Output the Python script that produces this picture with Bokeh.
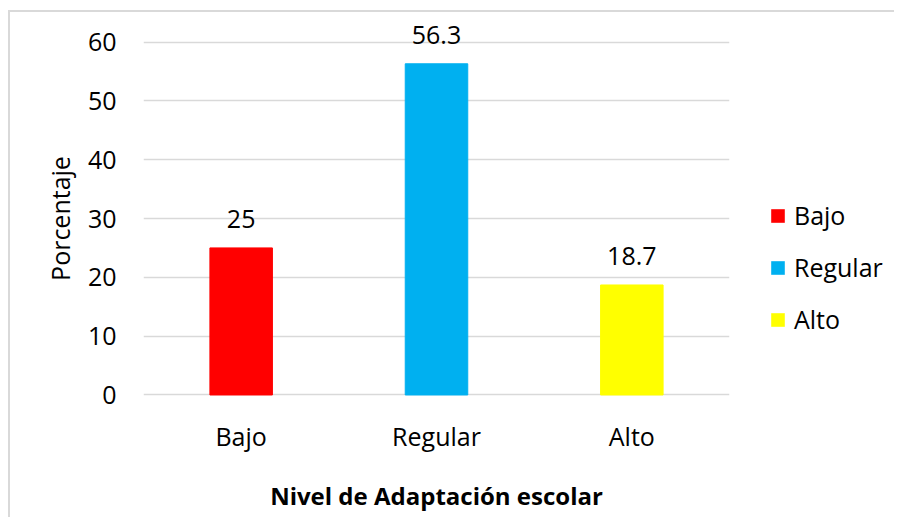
from bokeh.plotting import figure
from bokeh.layouts import row
from bokeh.models import ColumnDataSource, LabelSet, Legend, LegendItem
from bokeh.embed import file_html
from bokeh.resources import INLINE
from bokeh.core.properties import value

categories = ["Bajo", "Regular", "Alto"]
values = [25, 56.3, 18.7]
labels = ["25", "56.3", "18.7"]
colors = ["#FF0000", "#00B0F0", "#FFFF00"]
y_ticks = [0, 10, 20, 30, 40, 50, 60]

FONT = "Open Sans"
FS = "25px"

src = ColumnDataSource(dict(cat=categories, val=values, lab=labels, col=colors))

p = figure(x_range=categories, y_range=(-4, 64), width=727, height=505,
           output_backend="svg", toolbar_location=None,
           min_border_left=133, min_border_right=8, min_border_top=6, min_border_bottom=99)
p.outline_line_color = None
p.background_fill_color = "white"
p.border_fill_color = "white"

r = p.vbar(x="cat", top="val", bottom=0, width=0.32, color="col", source=src)

p.xgrid.grid_line_color = None
p.ygrid.grid_line_color = "#d9d9d9"
p.ygrid.grid_line_width = 1.5
p.yaxis.ticker = y_ticks

for ax in (p.xaxis[0], p.yaxis[0]):
    ax.axis_line_color = None
    ax.major_tick_line_color = None
    ax.minor_tick_line_color = None
    ax.major_tick_out = 0
    ax.major_tick_in = 0
    ax.major_label_text_font = FONT
    ax.major_label_text_font_size = FS
    ax.major_label_text_color = "black"
    ax.axis_label_text_font = FONT
    ax.axis_label_text_color = "black"

p.yaxis.major_label_standoff = 27
p.yaxis.axis_label = "Porcentaje"
p.yaxis.axis_label_text_font_style = "normal"
p.yaxis.axis_label_text_font_size = FS
p.yaxis.axis_label_standoff = 8

p.xaxis.major_label_standoff = 0
p.xaxis.axis_label = "Nivel de Adaptación escolar"
p.xaxis.axis_label_text_font_style = "bold"
p.xaxis.axis_label_text_font_size = "24px"
p.xaxis.axis_label_standoff = 23

ls = LabelSet(x="cat", y="val", text="lab", source=src, y_offset=20,
              text_align="center", text_baseline="alphabetic",
              text_font=value(FONT), text_font_size=FS, text_color="black")
p.add_layout(ls)

# legend panel (bars of this helper figure lie outside its visible range)
p2 = figure(x_range=categories, y_range=(-100, -90), width=157, height=505,
            output_backend="svg", toolbar_location=None,
            x_axis_location=None, y_axis_location=None, min_border=0)
p2.outline_line_color = None
p2.grid.grid_line_color = None
p2.background_fill_color = "white"
p2.border_fill_color = "white"
r2 = p2.vbar(x="cat", top="val", bottom=0, width=0.0, fill_color="col",
             line_color=None, source=src)

items = [LegendItem(label=c, renderers=[r2], index=i) for i, c in enumerate(categories)]
legend = Legend(items=items, location=(32, 82), orientation="vertical",
                glyph_width=17, glyph_height=17, label_height=30, spacing=18,
                label_standoff=8, padding=0, margin=0, border_line_color=None,
                background_fill_alpha=0,
                label_text_font=FONT, label_text_font_size=FS, label_text_color="black")
p2.add_layout(legend, "center")

layout = row(p, p2, spacing=0)
layout.styles = {"margin-left": "8px", "margin-top": "10px",
                 "border-top": "2px solid #d9d9d9", "border-left": "2px solid #d9d9d9"}

open("out.html", "w").write(file_html(layout, INLINE))
